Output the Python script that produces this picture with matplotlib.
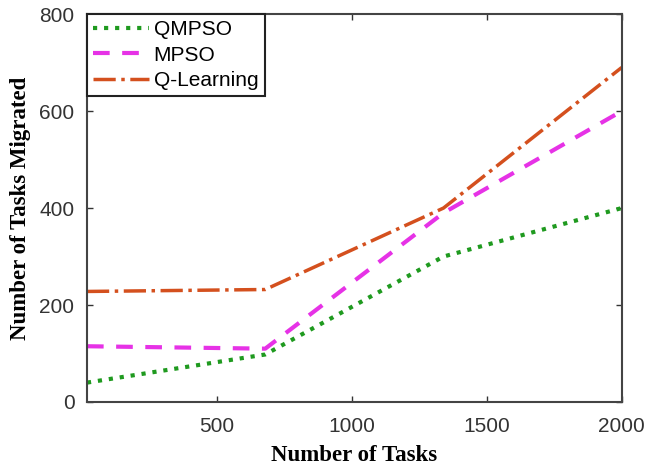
import matplotlib
matplotlib.use("Agg")
import matplotlib.pyplot as plt

tasks = [20, 680, 1340, 2000]
qmpso = [40, 98, 300, 400]
mpso = [115, 110, 390, 600]
qlearning = [228, 232, 400, 690]

xticks = [500, 1000, 1500, 2000]
yticks = [0, 200, 400, 600, 800]

fig = plt.figure(figsize=(6.49, 4.71), dpi=100)
ax = fig.add_axes([0.134, 0.1465, 0.824, 0.8235])

ax.plot(tasks, qmpso, ':', color='#1f9a1f', lw=3, label='QMPSO')
ax.plot(tasks, mpso, '--', color='#e632e6', lw=3, dashes=(4, 3), label='MPSO')
ax.plot(tasks, qlearning, '-.', color='#d4501e', lw=2.5, label='Q-Learning')

ax.set_xlim(20, 2000)
ax.set_ylim(0, 800)
ax.set_xticks(xticks)
ax.set_yticks(yticks)
ax.tick_params(direction='in', top=True, right=True, length=4, width=1,
               labelsize=15, labelcolor='#333333', colors='#333333')
ax.tick_params(axis='x', pad=11)
ax.tick_params(axis='y', pad=9)
for lab in ax.get_xticklabels() + ax.get_yticklabels():
    lab.set_family('Liberation Sans')
for s in ax.spines.values():
    s.set_linewidth(1.5)
    s.set_color('#444444')

ax.set_xlabel('Number of Tasks', family='Liberation Serif', fontweight='bold', fontsize=16.5, labelpad=6)
ax.set_ylabel('Number of Tasks Migrated', family='Liberation Serif', fontweight='bold', fontsize=16.5, labelpad=6)

leg = ax.legend(loc='upper left', prop={'family': 'Liberation Sans', 'size': 15},
                fancybox=False, framealpha=1, edgecolor='#222222',
                borderaxespad=0, handlelength=2.7, handletextpad=0.2,
                labelspacing=0.3, borderpad=0.3)
leg.get_frame().set_linewidth(1.5)

fig.savefig('out.png', dpi=100)
